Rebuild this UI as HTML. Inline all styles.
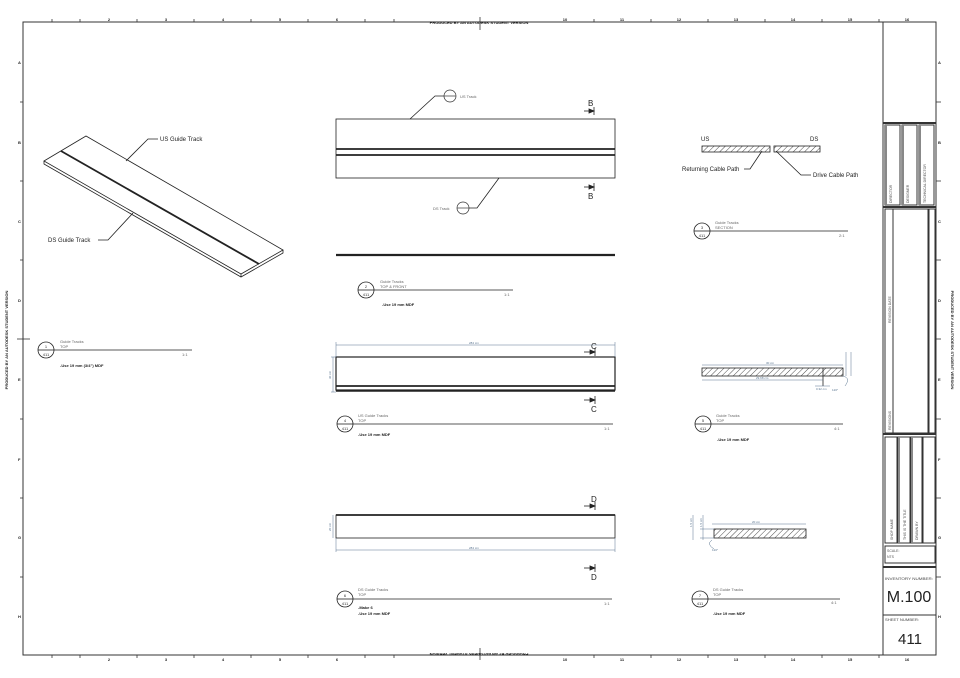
<!DOCTYPE html>
<html><head><meta charset="utf-8"><style>
html,body{margin:0;padding:0;background:#fff;width:960px;height:678px;overflow:hidden}
svg{display:block;font-family:"Liberation Sans",sans-serif}
.b{font-size:4px;font-weight:bold;fill:#222}
</style></head><body>
<svg width="960" height="678" viewBox="0 0 960 678" xmlns="http://www.w3.org/2000/svg">
<defs>
<pattern id="h" width="4" height="4" patternUnits="userSpaceOnUse" patternTransform="rotate(45)">
<line x1="0" y1="0" x2="0" y2="4" stroke="#222" stroke-width="0.8"/>
</pattern>
</defs>
<rect x="23" y="22" width="913" height="633" fill="none" stroke="#333" stroke-width="1"/>
<g stroke="#333" stroke-width="0.8">
<line x1="52" y1="19" x2="52" y2="22"/><line x1="80" y1="19" x2="80" y2="22"/><line x1="137" y1="19" x2="137" y2="22"/><line x1="194" y1="19" x2="194" y2="22"/><line x1="251" y1="19" x2="251" y2="22"/><line x1="308" y1="19" x2="308" y2="22"/><line x1="365" y1="19" x2="365" y2="22"/><line x1="394" y1="19" x2="394" y2="22"/><line x1="480" y1="17" x2="480" y2="30"/><line x1="594" y1="19" x2="594" y2="22"/><line x1="651" y1="19" x2="651" y2="22"/><line x1="708" y1="19" x2="708" y2="22"/><line x1="765" y1="19" x2="765" y2="22"/><line x1="822" y1="19" x2="822" y2="22"/><line x1="879" y1="19" x2="879" y2="22"/>
<line x1="52" y1="655" x2="52" y2="658"/><line x1="80" y1="655" x2="80" y2="658"/><line x1="137" y1="655" x2="137" y2="658"/><line x1="194" y1="655" x2="194" y2="658"/><line x1="251" y1="655" x2="251" y2="658"/><line x1="308" y1="655" x2="308" y2="658"/><line x1="365" y1="655" x2="365" y2="658"/><line x1="394" y1="655" x2="394" y2="658"/><line x1="480" y1="648" x2="480" y2="660"/><line x1="594" y1="655" x2="594" y2="658"/><line x1="651" y1="655" x2="651" y2="658"/><line x1="708" y1="655" x2="708" y2="658"/><line x1="765" y1="655" x2="765" y2="658"/><line x1="822" y1="655" x2="822" y2="658"/><line x1="879" y1="655" x2="879" y2="658"/>
<line x1="20" y1="102" x2="23" y2="102"/><line x1="20" y1="181" x2="23" y2="181"/><line x1="20" y1="260" x2="23" y2="260"/><line x1="17" y1="339" x2="30" y2="339"/><line x1="20" y1="419" x2="23" y2="419"/><line x1="20" y1="498" x2="23" y2="498"/><line x1="20" y1="577" x2="23" y2="577"/>
<line x1="936" y1="102" x2="941" y2="102"/><line x1="936" y1="181" x2="941" y2="181"/><line x1="936" y1="260" x2="941" y2="260"/><line x1="936" y1="339" x2="941" y2="339"/><line x1="936" y1="419" x2="941" y2="419"/><line x1="936" y1="498" x2="941" y2="498"/><line x1="936" y1="577" x2="941" y2="577"/>
</g>
<g class="b" text-anchor="middle">
<text x="109" y="21">2</text><text x="166" y="21">3</text><text x="223" y="21">4</text><text x="280" y="21">5</text><text x="337" y="21">6</text><text x="565" y="21">10</text><text x="622" y="21">11</text><text x="679" y="21">12</text><text x="736" y="21">13</text><text x="793" y="21">14</text><text x="850" y="21">15</text><text x="907" y="21">16</text>
<text x="109" y="661">2</text><text x="166" y="661">3</text><text x="223" y="661">4</text><text x="280" y="661">5</text><text x="337" y="661">6</text><text x="565" y="661">10</text><text x="622" y="661">11</text><text x="679" y="661">12</text><text x="736" y="661">13</text><text x="793" y="661">14</text><text x="850" y="661">15</text><text x="907" y="661">16</text>
<text x="479" y="24">PRODUCED BY AN AUTODESK STUDENT VERSION</text>
<text x="479" y="657" transform="rotate(180 479 655)">PRODUCED BY AN AUTODESK STUDENT VERSION</text>
<text x="8" y="340" transform="rotate(-90 8 340)">PRODUCED BY AN AUTODESK STUDENT VERSION</text>
<text x="951" y="340" transform="rotate(90 951 340)">PRODUCED BY AN AUTODESK STUDENT VERSION</text>
</g>
<g class="b" font-size="5">
<text x="18" y="64">A</text><text x="18" y="144">B</text><text x="18" y="223">C</text><text x="18" y="302">D</text><text x="18" y="381">E</text><text x="18" y="461">F</text><text x="18" y="539">G</text><text x="18" y="618">H</text>
<text x="938" y="64">A</text><text x="938" y="144">B</text><text x="938" y="223">C</text><text x="938" y="302">D</text><text x="938" y="381">E</text><text x="938" y="461">F</text><text x="938" y="539">G</text><text x="938" y="618">H</text>
</g>
<g fill="none" stroke="#333" stroke-width="1">
<rect x="883" y="22" width="53" height="633"/>
<line x1="883" y1="123" x2="936" y2="123" stroke-width="2"/>
<rect x="885" y="125" width="15" height="80"/><rect x="902" y="125" width="15" height="80"/><rect x="919" y="125" width="15" height="80"/>
<line x1="886" y1="125" x2="886" y2="205" stroke="#888" stroke-width="2"/><line x1="903" y1="125" x2="903" y2="205" stroke="#888" stroke-width="2"/><line x1="920" y1="125" x2="920" y2="205" stroke="#888" stroke-width="2"/>
<line x1="883" y1="207" x2="936" y2="207" stroke-width="2"/>
<rect x="885" y="209" width="43" height="224"/><line x1="893" y1="209" x2="893" y2="433"/>
<rect x="929" y="209" width="6" height="224"/>
<line x1="883" y1="434" x2="936" y2="434" stroke-width="2"/>
<rect x="885" y="437" width="12" height="106"/><rect x="898" y="437" width="12" height="106"/><rect x="911" y="437" width="11" height="106"/><rect x="923" y="437" width="12" height="106"/>
<line x1="899" y1="437" x2="899" y2="543" stroke="#888" stroke-width="2"/><line x1="912" y1="437" x2="912" y2="543" stroke="#888" stroke-width="2"/>
<rect x="885" y="546" width="50" height="17"/>
<line x1="883" y1="567" x2="936" y2="567" stroke-width="2"/>
<line x1="883" y1="615" x2="936" y2="615"/>
</g>
<g font-size="3.5" fill="#555">
<text transform="translate(892 203) rotate(-90)">DIRECTOR</text>
<text transform="translate(909 203) rotate(-90)">DESIGNER</text>
<text transform="translate(926 203) rotate(-90)">TECHNICAL DIRECTOR</text>
<text transform="translate(891 323) rotate(-90)">REVISION DATE</text>
<text transform="translate(891 430) rotate(-90)">REVISIONS</text>
<text transform="translate(893 540) rotate(-90)">SHOP NAME</text>
<text transform="translate(906 540) rotate(-90)">THIS IS THE TITLE</text>
<text transform="translate(918 540) rotate(-90)">DRAWN BY</text>
<text x="887" y="552">SCALE:</text><text x="887" y="558">NTS</text>
</g>
<text x="885" y="580" font-size="4" fill="#444" textLength="48" lengthAdjust="spacingAndGlyphs">INVENTORY NUMBER:</text>
<text x="909" y="602" font-size="16" fill="#222" text-anchor="middle">M.100</text>
<text x="885" y="621" font-size="4" fill="#444" textLength="34" lengthAdjust="spacingAndGlyphs">SHEET NUMBER:</text>
<text x="910" y="644" font-size="15" fill="#222" text-anchor="middle">411</text>

<g fill="none" stroke="#222" stroke-width="0.8">
<polygon points="44,161 86,136 283,250 241,274" fill="#fff"/>
<polyline points="44,161 44,164 241,277 283,253 283,250"/>
<line x1="241" y1="274" x2="241" y2="277"/>
<line x1="61" y1="151" x2="259" y2="264" stroke-width="1.8"/>
<polyline points="126,161 148,139 158,139"/>
<polyline points="98,240 108,240 133,213"/>
</g>
<text x="160" y="141" font-size="6" fill="#222">US Guide Track</text>
<text x="48" y="242" font-size="6" fill="#222">DS Guide Track</text>

<g fill="none" stroke="#222" stroke-width="0.8">
<circle cx="46" cy="350" r="8"/><line x1="38" y1="350" x2="54" y2="350"/><line x1="54" y1="350" x2="192" y2="350"/>
<circle cx="366" cy="290" r="8"/><line x1="358" y1="290" x2="374" y2="290"/><line x1="374" y1="290" x2="513" y2="290"/>
<circle cx="702" cy="231" r="8"/><line x1="694" y1="231" x2="710" y2="231"/><line x1="710" y1="231" x2="848" y2="231"/>
<circle cx="345" cy="424" r="8"/><line x1="337" y1="424" x2="353" y2="424"/><line x1="353" y1="424" x2="613" y2="424"/>
<circle cx="703" cy="424" r="8"/><line x1="695" y1="424" x2="711" y2="424"/><line x1="711" y1="424" x2="843" y2="424"/>
<circle cx="345" cy="599" r="8"/><line x1="337" y1="599" x2="353" y2="599"/><line x1="353" y1="599" x2="612" y2="599"/>
<circle cx="700" cy="599" r="8"/><line x1="692" y1="599" x2="708" y2="599"/><line x1="708" y1="599" x2="840" y2="599"/>
</g>
<g font-size="4" fill="#333" text-anchor="middle">
<text x="46" y="348">1</text><text x="46" y="356">411</text>
<text x="366" y="288">2</text><text x="366" y="296">411</text>
<text x="702" y="229">3</text><text x="702" y="237">411</text>
<text x="345" y="422">4</text><text x="345" y="430">411</text>
<text x="703" y="422">5</text><text x="703" y="430">411</text>
<text x="345" y="597">6</text><text x="345" y="605">411</text>
<text x="700" y="597">7</text><text x="700" y="605">411</text>
</g>
<g font-size="4" fill="#666">
<text x="60" y="343">Guide Tracks</text><text x="60" y="348">TOP</text><text x="182" y="356">1:1</text>
<text x="380" y="283">Guide Tracks</text><text x="380" y="288">TOP &amp; FRONT</text><text x="504" y="296">1:1</text>
<text x="715" y="224">Guide Tracks</text><text x="715" y="229">SECTION</text><text x="839" y="237">2:1</text>
<text x="358" y="417">US Guide Tracks</text><text x="358" y="422">TOP</text><text x="604" y="430">1:1</text>
<text x="716" y="417">Guide Tracks</text><text x="716" y="422">TOP</text><text x="834" y="430">4:1</text>
<text x="358" y="591">DS Guide Tracks</text><text x="358" y="596">TOP</text><text x="604" y="605">1:1</text>
<text x="713" y="591">DS Guide Tracks</text><text x="713" y="596">TOP</text><text x="831" y="604">4:1</text>
<text x="460" y="98">US Track</text><text x="433" y="210">DS Track</text>
</g>
<g font-size="4" fill="#222" font-weight="bold">
<text x="60" y="367">-Use 19 mm (3/4") MDF</text>
<text x="382" y="306">-Use 19 mm  MDF</text>
<text x="358" y="436">-Use 19 mm  MDF</text>
<text x="717" y="441">-Use 19 mm  MDF</text>
<text x="358" y="609">-Make 6</text><text x="358" y="615">-Use 19 mm  MDF</text>
<text x="713" y="615">-Use 19 mm  MDF</text>
</g>
<g fill="none" stroke="#333" stroke-width="0.7">
<circle cx="450" cy="96" r="6"/><line x1="444" y1="96" x2="456" y2="96"/>
<circle cx="463" cy="208" r="6"/><line x1="457" y1="208" x2="469" y2="208"/>
</g>

<g fill="none" stroke="#222">
<rect x="336" y="119" width="279" height="59" stroke-width="0.8"/>
<line x1="336" y1="149" x2="615" y2="149" stroke-width="1.8"/>
<line x1="336" y1="155" x2="615" y2="155" stroke-width="1.8"/>
<line x1="336" y1="255" x2="615" y2="255" stroke-width="2.2"/>
<polyline points="410,119 435,96 444,96" stroke-width="0.8"/>
<polyline points="469,208 477,208 499,178" stroke-width="0.8"/>
</g>
<g stroke="#222" fill="#222" stroke-width="0.8">
<line x1="584" y1="111" x2="594" y2="111"/><line x1="594" y1="107" x2="594" y2="115"/><polygon points="594,111 589,109 589,113"/>
<line x1="584" y1="187" x2="594" y2="187"/><line x1="594" y1="183" x2="594" y2="191"/><polygon points="594,187 589,185 589,189"/>
<line x1="584" y1="352" x2="595" y2="352"/><line x1="595" y1="348" x2="595" y2="356"/><polygon points="595,352 590,350 590,354"/>
<line x1="584" y1="400" x2="595" y2="400"/><line x1="595" y1="396" x2="595" y2="404"/><polygon points="595,400 590,398 590,402"/>
<line x1="584" y1="506" x2="595" y2="506"/><line x1="595" y1="502" x2="595" y2="510"/><polygon points="595,506 590,504 590,508"/>
<line x1="584" y1="568" x2="595" y2="568"/><line x1="595" y1="564" x2="595" y2="572"/><polygon points="595,568 590,566 590,570"/>
</g>
<g font-size="8" fill="#222"><text x="588" y="106">B</text><text x="588" y="199">B</text>
<text x="591" y="349">C</text><text x="591" y="412">C</text><text x="591" y="502">D</text><text x="591" y="580">D</text></g>

<rect x="702" y="146" width="68" height="6" fill="url(#h)" stroke="#222" stroke-width="0.8"/>
<rect x="774" y="146" width="46" height="6" fill="url(#h)" stroke="#222" stroke-width="0.8"/>
<g fill="none" stroke="#222" stroke-width="0.8">
<polyline points="744,169 750,169 762,151"/>
<polyline points="811,175 801,175 776,151"/>
</g>
<g font-size="6" fill="#222"><text x="701" y="141">US</text><text x="810" y="141">DS</text>
<text x="682" y="171">Returning Cable Path</text><text x="813" y="177">Drive Cable Path</text></g>

<g fill="none" stroke="#222">
<rect x="336" y="357" width="279" height="33" stroke-width="1.2"/>
<line x1="336" y1="386" x2="615" y2="386" stroke-width="1.8"/>
<line x1="336" y1="391" x2="615" y2="391" stroke-width="1.6"/>
</g>
<g fill="none" stroke="#5a7590" stroke-width="0.5">
<line x1="336" y1="345" x2="615" y2="345"/><line x1="336" y1="342" x2="336" y2="357"/><line x1="615" y1="342" x2="615" y2="357"/>
<line x1="333" y1="357" x2="333" y2="392"/><line x1="331" y1="357" x2="336" y2="357"/><line x1="331" y1="392" x2="336" y2="392"/>
</g>
<g font-size="3" fill="#5a7590"><text x="469" y="344">284 cm</text><text transform="translate(331 379) rotate(-90)">30 cm</text></g>

<rect x="702" y="368" width="141" height="8" fill="url(#h)" stroke="#222" stroke-width="0.8"/>
<line x1="823" y1="368" x2="823" y2="386" stroke="#222" stroke-width="0.8"/>
<g fill="none" stroke="#5a7590" stroke-width="0.5">
<line x1="702" y1="365" x2="843" y2="365"/><line x1="702" y1="380" x2="823" y2="380"/>
<line x1="815" y1="386" x2="830" y2="386"/>
<line x1="846" y1="352" x2="846" y2="376"/><line x1="851" y1="352" x2="851" y2="376"/>
<path d="M843 376 q8 2 2 10"/>
</g>
<g font-size="3" fill="#5a7590"><text x="766" y="364">30 cm</text><text x="756" y="379">29.68 cm</text><text x="816" y="390">0.32 cm</text><text x="832" y="391">120°</text></g>

<g fill="none" stroke="#222">
<rect x="336" y="515" width="279" height="23" stroke-width="0.8"/>
<line x1="336" y1="515" x2="615" y2="515" stroke-width="1.8"/>
</g>
<g fill="none" stroke="#5a7590" stroke-width="0.5">
<line x1="336" y1="550" x2="615" y2="550"/><line x1="336" y1="538" x2="336" y2="552"/><line x1="615" y1="538" x2="615" y2="552"/>
<line x1="333" y1="515" x2="333" y2="538"/>
</g>
<g font-size="3" fill="#5a7590"><text x="469" y="549">284 cm</text><text transform="translate(331 531) rotate(-90)">20 cm</text></g>

<rect x="714" y="529" width="92" height="9" fill="url(#h)" stroke="#222" stroke-width="0.8"/>
<g fill="none" stroke="#5a7590" stroke-width="0.5">
<line x1="712" y1="524" x2="806" y2="524"/>
<line x1="693" y1="515" x2="693" y2="540"/><line x1="703" y1="515" x2="703" y2="540"/>
<line x1="700" y1="529" x2="714" y2="529"/><line x1="700" y1="538" x2="714" y2="538"/>
<path d="M712 540 q-6 4 2 9"/>
</g>
<g font-size="3" fill="#5a7590"><text x="752" y="523">20 cm</text><text x="712" y="551">120°</text>
<text transform="translate(692 527) rotate(-90)">1.5 cm</text><text transform="translate(702 527) rotate(-90)">1.5 cm</text></g>
</svg>
</body></html>
